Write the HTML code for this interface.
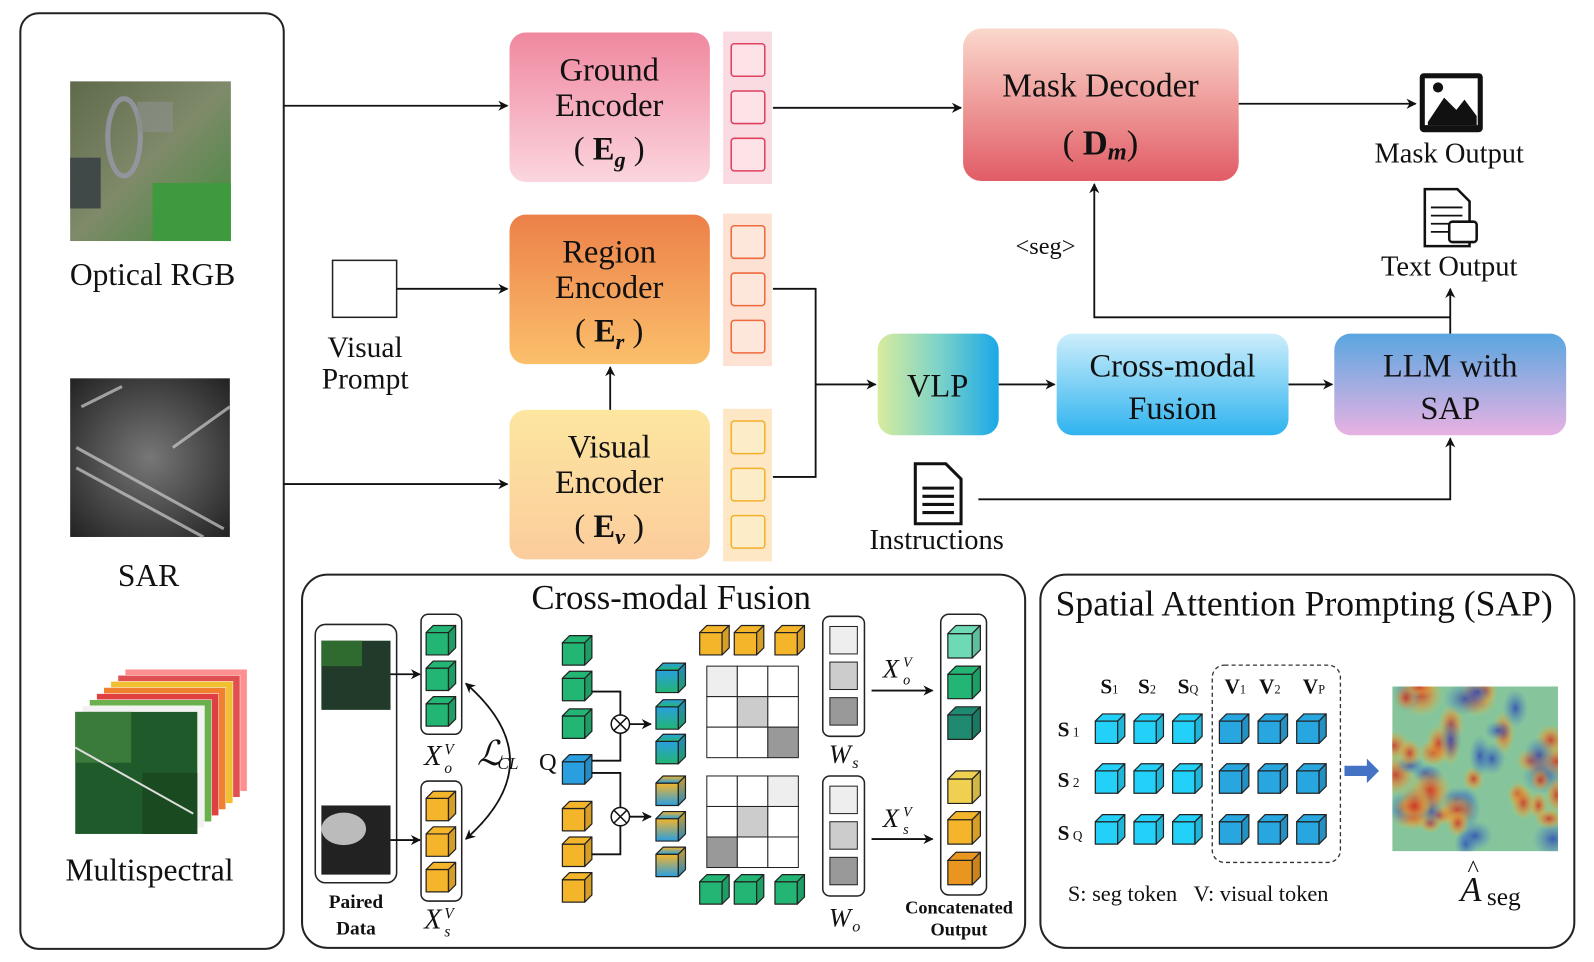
<!DOCTYPE html>
<html><head><meta charset="utf-8"><style>
html,body{margin:0;padding:0;background:#fff;overflow:hidden}
svg{display:block}
text{font-family:"Liberation Serif",serif;fill:#111}
</style></head><body>
<svg id="s" width="1594" height="962" viewBox="0 0 1594 962" xmlns="http://www.w3.org/2000/svg">
<defs>
<marker id="ah" markerWidth="10" markerHeight="10" refX="9" refY="5" orient="auto" markerUnits="userSpaceOnUse"><path d="M0,0 L10,5 L0,10 L3,5 z" fill="#111"/></marker>
<marker id="ahs" markerWidth="10" markerHeight="10" refX="1" refY="5" orient="auto" markerUnits="userSpaceOnUse"><path d="M10,0 L0,5 L10,10 L7,5 z" fill="#111"/></marker>
<linearGradient id="gPink" x1="0" y1="0" x2="0" y2="1"><stop offset="0" stop-color="#f0879f"/><stop offset="1" stop-color="#fbd6de"/></linearGradient>
<linearGradient id="gOr" x1="0" y1="0" x2="0" y2="1"><stop offset="0" stop-color="#ec8048"/><stop offset="1" stop-color="#fbc06c"/></linearGradient>
<linearGradient id="gYe" x1="0" y1="0" x2="0" y2="1"><stop offset="0" stop-color="#fde6a0"/><stop offset="1" stop-color="#fbcc9c"/></linearGradient>
<linearGradient id="gMD" x1="0" y1="0" x2="0" y2="1"><stop offset="0" stop-color="#fbd8cc"/><stop offset="1" stop-color="#e15c66"/></linearGradient>
<linearGradient id="gVLP" x1="0" y1="0" x2="1" y2="0"><stop offset="0" stop-color="#d8ec9c"/><stop offset="0.5" stop-color="#7ed3c8"/><stop offset="1" stop-color="#1aa8e8"/></linearGradient>
<linearGradient id="gCMF" x1="0" y1="0" x2="0" y2="1"><stop offset="0" stop-color="#cdeefb"/><stop offset="1" stop-color="#2fb3ef"/></linearGradient>
<linearGradient id="gLLM" x1="0" y1="0" x2="0" y2="1"><stop offset="0" stop-color="#5aa6e0"/><stop offset="1" stop-color="#e8b2e2"/></linearGradient>
<linearGradient id="gBG" x1="0" y1="0" x2="0" y2="1"><stop offset="0" stop-color="#2a9fe0"/><stop offset="1" stop-color="#22b573"/></linearGradient>
<linearGradient id="gOB" x1="0" y1="0" x2="0" y2="1"><stop offset="0" stop-color="#f5b52a"/><stop offset="1" stop-color="#2a9fe0"/></linearGradient>
<linearGradient id="gRGB" x1="0" y1="0" x2="1" y2="1"><stop offset="0" stop-color="#5f6a4a"/><stop offset="0.5" stop-color="#7f8a6a"/><stop offset="1" stop-color="#3f8a3a"/></linearGradient>
<radialGradient id="gSAR" cx="0.5" cy="0.5" r="0.7"><stop offset="0" stop-color="#777"/><stop offset="1" stop-color="#222"/></radialGradient>
<radialGradient id="hr"><stop offset="0" stop-color="#d02020"/><stop offset="0.5" stop-color="#e88030" stop-opacity="0.7"/><stop offset="1" stop-color="#e0c040" stop-opacity="0"/></radialGradient>
<radialGradient id="hb"><stop offset="0" stop-color="#1a3ac0"/><stop offset="1" stop-color="#3080e0" stop-opacity="0"/></radialGradient>
</defs>
<g id="g" transform="scale(1.017)"></g>
</svg>
<script>
var G=document.getElementById('g'),h='';
function R(x,y,w,hh,a){h+='<rect x="'+x+'" y="'+y+'" width="'+w+'" height="'+hh+'" '+(a||'')+'/>';}
function T(x,y,t,a){h+='<text x="'+x+'" y="'+y+'" '+(a||'')+'>'+t+'</text>';}
function L(p,a){h+='<polyline points="'+p+'" fill="none" stroke="#111" stroke-width="1.8" '+(a===undefined?'marker-end="url(#ah)"':a)+'/>';}
function C(x,y,s,c){var d=Math.round(s*0.25);
h+='<g stroke="#222" stroke-width="1.2" stroke-linejoin="round"><rect x="'+x+'" y="'+(y+d)+'" width="'+(s-d)+'" height="'+(s-d)+'" fill="'+c+'"/>'+
'<polygon points="'+x+','+(y+d)+' '+(x+d)+','+y+' '+(x+s)+','+y+' '+(x+s-d)+','+(y+d)+'" fill="'+c+'"/>'+
'<polygon points="'+(x+s-d)+','+(y+d)+' '+(x+s)+','+y+' '+(x+s)+','+(y+s-d)+' '+(x+s-d)+','+(y+s)+'" fill="'+c+'" /><polygon points="'+(x+s-d)+','+(y+d)+' '+(x+s)+','+y+' '+(x+s)+','+(y+s-d)+' '+(x+s-d)+','+(y+s)+'" fill="#000" opacity="0.12"/></g>';}
// left panel
R(20,13,259,920,'rx="18" fill="none" stroke="#222" stroke-width="2"');
R(69,80,158,157,'fill="url(#gRGB)"');
h+='<ellipse cx="122" cy="135" rx="16" ry="38" fill="none" stroke="#99a" stroke-width="5" opacity=".8"/><rect x="135" y="100" width="35" height="30" fill="#8a8f88" opacity=".7"/><rect x="150" y="180" width="77" height="57" fill="#3f9a3f"/><rect x="69" y="155" width="30" height="50" fill="#404848"/>';
T(150,280,'Optical RGB','font-size="31" text-anchor="middle"');
R(69,372,157,156,'fill="url(#gSAR)"');
h+='<g stroke="#ccc" stroke-width="3" opacity=".7"><line x1="75" y1="440" x2="220" y2="520"/><line x1="75" y1="460" x2="200" y2="528"/><line x1="80" y1="400" x2="120" y2="380"/><line x1="170" y1="440" x2="226" y2="400"/></g>';
T(146,576,'SAR','font-size="31" text-anchor="middle"');
var cols=['#2a7a3a','#f2f2f0','#6ab04c','#e04040','#f08030','#f0c030','#e05050','#ff9090'];
for(var i=7;i>=0;i--){R(74+i*7,700-i*6,120,120,'fill="'+cols[i]+'" stroke="#fff" stroke-width="0.5"');}
R(74,700,120,120,'fill="#1f5a2a"');h+='<rect x="74" y="700" width="55" height="50" fill="#3a7a3a"/><rect x="140" y="760" width="54" height="60" fill="#1a4a20"/><line x1="74" y1="735" x2="190" y2="800" stroke="#ddd" stroke-width="2"/>';
T(147,866,'Multispectral','font-size="31" text-anchor="middle"');
// encoders
function Enc(y,fill,t1,t2,sub,tb,tc,tf){R(501,y,197,147,'rx="16" fill="'+fill+'"');
T(599,y+47,t1,'font-size="32" text-anchor="middle"');T(599,y+82,t2,'font-size="32" text-anchor="middle"');
T(599,y+125,'( <tspan font-weight="bold">E</tspan><tspan font-weight="bold" font-style="italic" font-size="22" dy="7">'+sub+'</tspan><tspan dy="-7"> )</tspan>','font-size="32" text-anchor="middle"');
R(711,y-1,48,150,'fill="'+tb+'"');for(var k=0;k<3;k++)R(719,y+11+k*46.5,33,32,'rx="3" fill="'+tf+'" stroke="'+tc+'" stroke-width="1.5"');}
Enc(32,'url(#gPink)','Ground','Encoder','g','#fadbe2','#e0405e','#fde2e8');
Enc(211,'url(#gOr)','Region','Encoder','r','#fde1d3','#ef6a3c','#fde6da');
Enc(403,'url(#gYe)','Visual','Encoder','v','#fde7c4','#f3b02c','#fdecc8');
// mask decoder
R(947,28,271,150,'rx="18" fill="url(#gMD)"');
T(1082,95,'Mask Decoder','font-size="33" text-anchor="middle"');
T(1082,152,'( <tspan font-weight="bold">D</tspan><tspan font-weight="bold" font-style="italic" font-size="24" dy="5">m</tspan><tspan dy="-5">)</tspan>','font-size="34" text-anchor="middle"');
R(863,328,119,100,'rx="16" fill="url(#gVLP)"');T(922,390,'VLP','font-size="32" text-anchor="middle"');
R(1039,328,228,100,'rx="16" fill="url(#gCMF)"');T(1153,370,'Cross-modal','font-size="32" text-anchor="middle"');T(1153,412,'Fusion','font-size="32" text-anchor="middle"');
R(1312,328,228,100,'rx="16" fill="url(#gLLM)"');T(1426,370,'LLM with','font-size="32" text-anchor="middle"');T(1426,412,'SAP','font-size="32" text-anchor="middle"');
// arrows
L('279,104 499,104');L('760,106 945,106');L('1218,102 1392,102');
R(327,256,63,56,'fill="#fff" stroke="#222" stroke-width="1.5"');L('390,284 499,284');
T(359,351,'Visual','font-size="29" text-anchor="middle"');T(359,382,'Prompt','font-size="29" text-anchor="middle"');
L('600,403 600,361');L('279,476 499,476');
L('760,284 802,284 802,469 760,469','');L('802,378 861,378');
L('982,378 1037,378');L('1267,378 1310,378');
L('1426,328 1426,284');L('1426,312 1076,312 1076,181');
T(1028,250,'&lt;seg&gt;','font-size="24" text-anchor="middle"');
L('962,491 1426,491 1426,431');
// icons
h+='<g><rect x="1396" y="72" width="62" height="58" rx="4" fill="#111"/><rect x="1401" y="77" width="52" height="46" fill="#fff"/><polygon points="1404,120 1420,96 1432,108 1440,98 1452,114 1452,123 1404,123" fill="#111"/><circle cx="1414" cy="86" r="5" fill="#111"/></g>';
T(1425,160,'Mask Output','font-size="28" text-anchor="middle"');
h+='<g fill="#fff" stroke="#111" stroke-width="2.5"><path d="M1401,186 h32 l12,12 v44 h-44 z"/><g stroke-width="1.8"><line x1="1407" y1="204" x2="1438" y2="204"/><line x1="1407" y1="212" x2="1438" y2="212"/><line x1="1407" y1="220" x2="1430" y2="220"/><line x1="1407" y1="228" x2="1425" y2="228"/></g><rect x="1425" y="218" width="27" height="20" rx="3"/></g>';
T(1425,271,'Text Output','font-size="28" text-anchor="middle"');
h+='<g><path d="M900,456 h30 l15,15 v44 h-45 z" fill="#fff" stroke="#111" stroke-width="3"/><g stroke="#111" stroke-width="3"><line x1="907" y1="480" x2="938" y2="480"/><line x1="907" y1="488" x2="938" y2="488"/><line x1="907" y1="496" x2="938" y2="496"/><line x1="907" y1="504" x2="938" y2="504"/></g></g>';
T(921,540,'Instructions','font-size="28" text-anchor="middle"');
// CMF panel
R(297,565,711,367,'rx="25" fill="none" stroke="#222" stroke-width="2"');
T(660,599,'Cross-modal Fusion','font-size="34" text-anchor="middle"');
R(310,614,80,254,'rx="10" fill="none" stroke="#222" stroke-width="1.5"');
R(316,630,68,68,'fill="#213a2a"');h+='<rect x="316" y="630" width="40" height="25" fill="#2f6a2f"/>';
R(316,792,68,68,'fill="#222"');h+='<ellipse cx="338" cy="815" rx="22" ry="16" fill="#bbb"/>';
L('384,663 413,663');L('384,826 413,826');
T(350,893,'Paired','font-size="19" font-weight="bold" text-anchor="middle"');T(350,919,'Data','font-size="19" font-weight="bold" text-anchor="middle"');
R(414,604,40,118,'rx="7" fill="none" stroke="#222" stroke-width="1.5"');R(414,768,40,118,'rx="7" fill="none" stroke="#222" stroke-width="1.5"');
var gr='#22b573',og='#f5b52a';
[615,650,685].forEach(function(y){C(419,y,29,gr);});[778,813,848].forEach(function(y){C(419,y,29,og);});
T(417,752,'X','font-size="28" font-style="italic"');T(437,742,'V','font-size="15" font-style="italic"');T(437,760,'o','font-size="15" font-style="italic"');
T(417,913,'X','font-size="28" font-style="italic"');T(437,903,'V','font-size="15" font-style="italic"');T(437,921,'s','font-size="15" font-style="italic"');
h+='<path d="M458,672 Q545,748 458,825" fill="none" stroke="#111" stroke-width="1.8" marker-end="url(#ah)" marker-start="url(#ahs)"/>';
T(469,752,'ℒ','font-size="34" font-style="italic"');T(489,756,'CL','font-size="17" font-style="italic"');
[625,660,697].forEach(function(y){C(553,y,29,gr);});C(553,742,29,'#2a9fe0');[788,823,858].forEach(function(y){C(553,y,29,og);});
T(530,757,'Q','font-size="24"');
L('582,680 610,680 610,703','');L('582,748 610,748 610,721','');L('582,760 610,760 610,794','');L('582,840 610,840 610,812','');
[712,803].forEach(function(y){h+='<circle cx="610" cy="'+y+'" r="9" fill="#fff" stroke="#111" stroke-width="1.5"/><path d="M604,'+(y-6)+' l12,12 M616,'+(y-6)+' l-12,12" stroke="#111" stroke-width="1.5"/>';L('619,'+y+' 640,'+y);});
[652,688,722].forEach(function(y){C(645,y,29,'url(#gBG)');});[763,798,833].forEach(function(y){C(645,y,29,'url(#gOB)');});
[688,722,762].forEach(function(x){C(x,615,29,og);});[688,722,762].forEach(function(x){C(x,860,29,gr);});
function Grid(y,sh){for(var r=0;r<3;r++)for(var c=0;c<3;c++){R(695+c*30,y+r*30,30,30,'fill="'+(sh[r*3+c]||'#fff')+'" stroke="#222" stroke-width="1"');}}
Grid(655,['#eee',0,0,0,'#ccc',0,0,0,'#999']);Grid(763,[0,0,'#eee',0,'#ccc',0,'#999',0,0]);
function W(y){R(809,y,41,118,'rx="7" fill="#fff" stroke="#222" stroke-width="1.5"');['#eee','#ccc','#999'].forEach(function(c,k){R(816,y+10+k*35,27,27,'fill="'+c+'" stroke="#222" stroke-width="1"');});}
W(606);W(763);
T(815,750,'W','font-size="26" font-style="italic"');T(838,755,'s','font-size="16" font-style="italic"');
T(815,911,'W','font-size="26" font-style="italic"');T(838,916,'o','font-size="16" font-style="italic"');
T(868,666,'X','font-size="26" font-style="italic"');T(888,656,'V','font-size="14" font-style="italic"');T(888,673,'o','font-size="14" font-style="italic"');
T(868,813,'X','font-size="26" font-style="italic"');T(888,803,'V','font-size="14" font-style="italic"');T(888,820,'s','font-size="14" font-style="italic"');
L('857,679 917,679');L('857,825 917,825');
R(925,604,45,276,'rx="8" fill="none" stroke="#222" stroke-width="1.5"');
[['#6dd9b5',615],['#22b573',655],['#1f8a70',695],['#efd050',758],['#f5b52a',798],['#e8961f',838]].forEach(function(a){C(932,a[1],32,a[0]);});
T(943,898,'Concatenated','font-size="18" font-weight="bold" text-anchor="middle"');T(943,920,'Output','font-size="18" font-weight="bold" text-anchor="middle"');
// SAP panel
R(1023,565,525,367,'rx="25" fill="none" stroke="#222" stroke-width="2"');
T(1038,605,'Spatial Attention Prompting (SAP)','font-size="35"');
var hd=[['S','1',1082],['S','2',1119],['S','Q',1158],['V','1',1204],['V','2',1238],['V','P',1281]];
hd.forEach(function(a){T(a[2],682,'<tspan font-weight="bold">'+a[0]+'</tspan><tspan font-size="12">'+a[1]+'</tspan>','font-size="21"');});
[['1',724],['2',774],['Q',826]].forEach(function(a){T(1040,a[1],'<tspan font-weight="bold">S</tspan><tspan font-size="13"> '+a[0]+'</tspan>','font-size="21"');});
[702,751,801].forEach(function(y){[1077,1115,1153].forEach(function(x){C(x,y,29,'#22d0f8');});[1199,1237,1275].forEach(function(x){C(x,y,29,'#28a6df');});});
R(1192,654,126,194,'rx="12" fill="none" stroke="#333" stroke-width="1.3" stroke-dasharray="4,3"');
h+='<polygon points="1322,753 1344,753 1344,746 1356,758 1344,770 1344,763 1322,763" fill="#4472c4"/>';
h+='<svg x="1369" y="675" width="163" height="162" overflow="hidden"><rect width="163" height="162" fill="#7cc4a8"/>';
var seed=7;function rnd(){seed=(seed*9301+49297)%233280;return seed/233280;}
for(var q=0;q<55;q++){h+='<ellipse cx="'+(rnd()*163)+'" cy="'+(rnd()*162)+'" rx="'+(9+rnd()*13)+'" ry="'+(9+rnd()*13)+'" fill="url(#'+(rnd()<0.55?'hr':'hb')+')" opacity="0.85"/>';}
h+='<rect width="163" height="162" fill="#d8d040" opacity="0.12"/></svg>';
T(1050,886,'S: seg token&#160;&#160; V: visual token','font-size="22"');
T(1436,886,'A','font-size="34" font-style="italic"');T(1443,862,'^','font-size="24"');T(1462,890,'seg','font-size="25"');
G.innerHTML=h;
</script>
</body></html>
